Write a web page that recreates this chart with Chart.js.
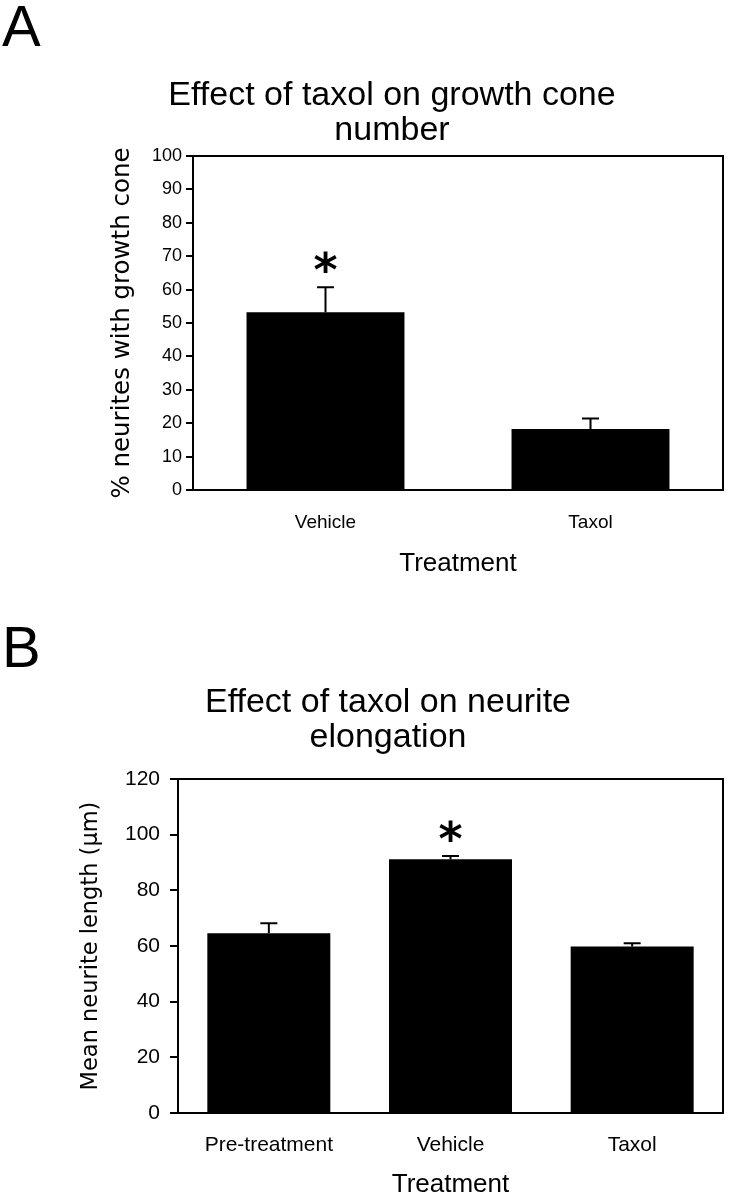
<!DOCTYPE html>
<html><head><meta charset="utf-8">
<script src="https://cdn.jsdelivr.net/npm/chart.js@4.4.0/dist/chart.umd.min.js"></script>
<style>
html,body{margin:0;padding:0;background:#fff;}
#wrap{position:relative;width:731px;height:1199px;overflow:hidden;}
canvas{position:absolute;left:0;}
</style></head><body>
<div id="wrap">
<canvas id="cA" width="731" height="600" style="top:0"></canvas>
<canvas id="cB" width="731" height="599" style="top:600px"></canvas>
</div>
<script>
// ---------- Panel A data ----------
const letterA = 'A';
const titleA = ['Effect of taxol on growth cone', 'number'];
const categoriesA = ['Vehicle', 'Taxol'];
const valuesA = [53.2, 18.3];
const errorsA = [7.5, 3.1];
const markersA = ['*', ''];
const yTitleA = '% neurites with growth cone';
const yTicksA = {min: 0, max: 100, step: 10};

// ---------- Panel B data ----------
const letterB = 'B';
const titleB = ['Effect of taxol on neurite', 'elongation'];
const categoriesB = ['Pre-treatment', 'Vehicle', 'Taxol'];
const valuesB = [64.6, 91.2, 59.8];
const errorsB = [3.6, 1.1, 1.2];
const markersB = ['', '*', ''];
const yTitleB = 'Mean neurite length (µm)';
const yTicksB = {min: 0, max: 120, step: 20};

const xTitle = 'Treatment';

const AX = 'Liberation Sans';
const YT = 'DejaVu Sans';
const TT = 'Liberation Sans';

const decor = {
  id: 'decor',
  afterDatasetsDraw(chart, args, o) {
    const {ctx, chartArea: ca, scales: {y}} = chart;
    const meta = chart.getDatasetMeta(0);
    const vals = chart.data.datasets[0].data;
    ctx.save();
    ctx.strokeStyle = '#000';
    ctx.fillStyle = '#000';
    ctx.lineWidth = 2;
    o.errors.forEach((e, i) => {
      const cx = meta.data[i].x;
      const y0 = y.getPixelForValue(vals[i]);
      const y1 = y.getPixelForValue(vals[i] + e);
      ctx.beginPath();
      ctx.moveTo(cx, y0); ctx.lineTo(cx, y1);
      ctx.moveTo(cx - o.cap / 2, y1); ctx.lineTo(cx + o.cap / 2, y1);
      ctx.stroke();
      if (o.markers[i]) {
        ctx.font = 'bold ' + o.starSize + 'px "DejaVu Sans"';
        ctx.textAlign = 'center';
        ctx.textBaseline = 'alphabetic';
        const m = ctx.measureText(o.markers[i]);
        const bottom = y1 - o.starGap;
        ctx.fillText(o.markers[i], cx, bottom - m.actualBoundingBoxDescent);
      }
    });
    ctx.strokeRect(ca.left, ca.top, ca.right - ca.left, ca.bottom - ca.top);
    ctx.font = '58px "' + TT + '"';
    ctx.textAlign = 'left';
    ctx.textBaseline = 'alphabetic';
    ctx.fillText(o.letter, 2, o.letterY);
    ctx.restore();
  }
};

function makeChart(id, cfg) {
  return new Chart(document.getElementById(id), {
    type: 'bar',
    data: {
      labels: cfg.labels,
      datasets: [{data: cfg.values, backgroundColor: '#000', borderWidth: 0,
        barPercentage: cfg.barPct, categoryPercentage: 1}]
    },
    options: {
      responsive: false, animation: false, devicePixelRatio: 1,
      layout: {padding: {left: cfg.padL, right: 8, top: 0, bottom: 0}},
      plugins: {
        legend: {display: false}, tooltip: {enabled: false},
        title: {display: true, text: cfg.title, color: '#000', align: 'center',
          font: {family: TT, size: 34, weight: 'normal', lineHeight: 35 / 34},
          padding: {top: cfg.titleTop, bottom: cfg.titleBottom}},
        decor: {errors: cfg.errors, markers: cfg.markers, cap: 17, starSize: 46, starGap: 14,
          letter: cfg.letter, letterY: cfg.letterY}
      },
      scales: {
        x: {
          grid: {display: false, drawTicks: false},
          border: {display: true, color: '#000', width: 2},
          ticks: {color: '#000', font: {family: AX, size: cfg.xTickSize}, padding: cfg.xTickPad, maxRotation: 0},
          title: {display: true, text: xTitle, color: '#000', font: {family: AX, size: 26},
            padding: {top: 0, bottom: cfg.xTitlePad}},
          afterFit(s) { s.height = cfg.xHeight; }
        },
        y: {
          min: cfg.yt.min, max: cfg.yt.max,
          ticks: {stepSize: cfg.yt.step, color: '#000', font: {family: AX, size: cfg.yTickSize}, padding: cfg.yTickPad},
          grid: {display: true, drawOnChartArea: false, drawTicks: true, tickLength: cfg.tickLen, color: '#000', lineWidth: 2},
          border: {display: true, color: '#000', width: 2},
          title: {display: true, text: cfg.yTitle, color: '#000', font: {family: YT, size: cfg.yTitleSize},
            padding: {top: cfg.yTitlePad, bottom: 0}},
          afterFit(s) { s.width = cfg.yWidth; }
        }
      }
    },
    plugins: [decor]
  });
}

makeChart('cA', {
  labels: categoriesA, values: valuesA, errors: errorsA, markers: markersA,
  title: titleA, letter: letterA, letterY: 46, yt: yTicksA, yTitle: yTitleA,
  barPct: 0.596, padL: 61, titleTop: 78.5, titleBottom: 7.5,
  xTickSize: 19, xTickPad: 21, xTitlePad: 21, xHeight: 110,
  yTickSize: 18, yTickPad: 4, tickLen: 7, yTitleSize: 24.5, yTitlePad: 47, yWidth: 132
});

makeChart('cB', {
  labels: categoriesB, values: valuesB, errors: errorsB, markers: markersB,
  title: titleB, letter: letterB, letterY: 67, yt: yTicksB, yTitle: yTitleB,
  barPct: 0.677, padL: 53, titleTop: 85, titleBottom: 24,
  xTickSize: 21, xTickPad: 20, xTitlePad: -1, xHeight: 86,
  yTickSize: 21, yTickPad: 10, tickLen: 8, yTitleSize: 22.5, yTitlePad: 24.5, yWidth: 125
});
</script>
</body></html>
